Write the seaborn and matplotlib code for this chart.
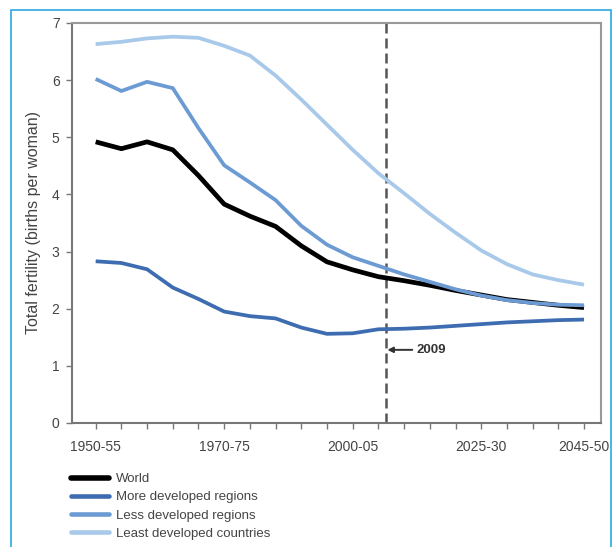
import matplotlib
matplotlib.use("Agg")
import matplotlib.pyplot as plt
from matplotlib.patches import Rectangle
import numpy as np
import pandas as pd
import seaborn as sns

# Five-year periods 1950-55 ... 2045-50
periods = ["1950-55", "1955-60", "1960-65", "1965-70", "1970-75",
           "1975-80", "1980-85", "1985-90", "1990-95", "1995-00",
           "2000-05", "2005-10", "2010-15", "2015-20", "2020-25",
           "2025-30", "2030-35", "2035-40", "2040-45", "2045-50"]

world = [4.92, 4.80, 4.92, 4.78, 4.33, 3.83, 3.62, 3.44, 3.10, 2.82,
         2.68, 2.56, 2.49, 2.41, 2.32, 2.24, 2.16, 2.11, 2.06, 2.02]
more_developed = [2.83, 2.80, 2.69, 2.37, 2.17, 1.95, 1.87, 1.83, 1.67, 1.56,
                  1.57, 1.64, 1.65, 1.67, 1.70, 1.73, 1.76, 1.78, 1.80, 1.81]
less_developed = [6.02, 5.81, 5.97, 5.86, 5.16, 4.51, 4.21, 3.90, 3.45, 3.12,
                  2.90, 2.75, 2.60, 2.47, 2.34, 2.23, 2.15, 2.10, 2.07, 2.06]
least_developed = [6.63, 6.67, 6.73, 6.76, 6.74, 6.60, 6.43, 6.08, 5.66, 5.22,
                   4.78, 4.37, 4.02, 3.66, 3.33, 3.02, 2.78, 2.60, 2.50, 2.42]

series_names = ["World", "More developed regions", "Less developed regions",
                "Least developed countries"]
series_values = [world, more_developed, less_developed, least_developed]
colors = ["#000000", "#3e6cb0", "#6c9bd3", "#a8c9e9"]
widths = [3.4, 2.7, 2.7, 2.7]

tick_positions = [0, 5, 10, 15, 19]
tick_labels = ["1950-55", "1970-75", "2000-05", "2025-30", "2045-50"]
marker_year_pos = 11.3   # 2009 within the 2005-10 period
marker_label = "2009"

df = pd.DataFrame({
    "period": np.tile(np.arange(len(periods)), len(series_names)),
    "tfr": np.concatenate(series_values),
    "series": np.repeat(series_names, len(periods)),
})

sns.set_theme(style="white")
plt.rcParams["font.family"] = ["Liberation Sans", "DejaVu Sans"]

fig = plt.figure(figsize=(6.14, 5.47), dpi=100)
ax = fig.add_axes([0.1173, 0.2267, 0.9788 - 0.1173, 0.958 - 0.2267])

sns.lineplot(data=df, x="period", y="tfr", hue="series",
             hue_order=series_names, palette=colors, ax=ax,
             legend=False, sort=False)
for line, w in zip(ax.get_lines(), widths):
    line.set_linewidth(w)
    line.set_solid_capstyle("butt")

ax.set_xlim(-0.92, 19.66)
ax.set_ylim(0, 7)

ax.axvline(marker_year_pos, color="#555555", lw=1.8, ls=(0, (4, 2)), zorder=1)
ax.annotate(marker_label, xy=(marker_year_pos + 0.05, 1.28),
            xytext=(marker_year_pos + 1.2, 1.28),
            fontsize=9.5, fontweight="bold", color="#333333",
            va="center", ha="left",
            arrowprops=dict(arrowstyle="-|>", color="#333333", lw=1.4,
                            mutation_scale=8, shrinkA=1, shrinkB=0))

ax.set_xticks(range(len(periods)))
ax.set_xticklabels([tick_labels[tick_positions.index(i)] if i in tick_positions else ""
                    for i in range(len(periods))])
ax.set_yticks(range(0, 8))
ax.tick_params(axis="both", which="major", direction="out", length=4,
               width=1, color="#777777", labelsize=10, labelcolor="#444444",
               bottom=True, left=True, pad=8)
ax.tick_params(axis="y", pad=5)

ax.set_xlabel("")
ax.set_ylabel("Total fertility (births per woman)", fontsize=11.5,
              color="#444444", labelpad=8)

for side in ["left", "bottom", "top", "right"]:
    ax.spines[side].set_visible(True)
    ax.spines[side].set_linewidth(1.5)
    ax.spines[side].set_color("#999999")
ax.spines["left"].set_color("#777777")
ax.spines["bottom"].set_color("#777777")

handles = [plt.Line2D([], [], color=c, lw=w + 0.6) for c, w in zip(colors, widths)]
fig.legend(handles, series_names, loc="upper left",
           bbox_to_anchor=(0.107, 0.145), frameon=False,
           fontsize=9.5, labelcolor="#444444", handlelength=2.9,
           handletextpad=0.5, labelspacing=0.45, borderaxespad=0,
           bbox_transform=fig.transFigure)

# outer frame
fig.patches.append(Rectangle((11 / 614, -0.05), 600 / 614, 1 - 10 / 547 + 0.05,
                             transform=fig.transFigure, fill=False,
                             edgecolor="#2aa8df", lw=1.2))

fig.savefig("out.png", dpi=100)
